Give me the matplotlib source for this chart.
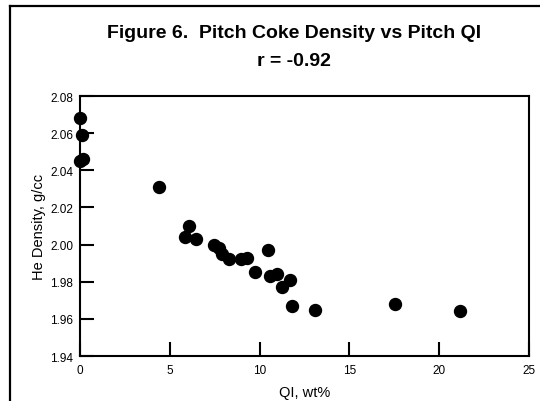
import matplotlib
matplotlib.use("Agg")
import matplotlib.pyplot as plt
from matplotlib.lines import Line2D

plt.rcParams['font.family'] = ['Liberation Sans', 'DejaVu Sans']

qi = [0.0, 0.1, 0.0, 0.15, 4.4, 6.07, 5.85, 6.46, 7.44, 7.72, 7.93, 8.3, 8.98, 9.3,
      9.74, 10.48, 10.6, 10.98, 11.7, 11.24, 11.82, 13.06, 17.56, 21.15]
density = [2.068, 2.059, 2.045, 2.046, 2.031, 2.010, 2.004, 2.003, 2.000, 1.998,
           1.995, 1.992, 1.992, 1.993, 1.985, 1.997, 1.983, 1.984, 1.981, 1.977,
           1.967, 1.965, 1.968, 1.964]

xticks = [0, 5, 10, 15, 20, 25]
yticks = [1.94, 1.96, 1.98, 2.00, 2.02, 2.04, 2.06, 2.08]

fig = plt.figure(figsize=(5.4, 4.02), dpi=100)
ax = fig.add_axes([80/540, 45/402, 449/540, 260/402])

ax.plot(qi, density, 'o', color='black', markersize=8.6, clip_on=False, zorder=5)

ax.set_xlim(0, 25)
ax.set_ylim(1.94, 2.08)
ax.set_xticks(xticks)
ax.set_xticklabels([str(t) for t in xticks])
ax.set_yticks(yticks)
ax.set_yticklabels([f"{t:.2f}" for t in yticks])
ax.tick_params(direction='in', length=10, width=1.5, labelsize=8.5, pad=6)
ax.tick_params(axis='y', pad=5)
for s in ax.spines.values():
    s.set_linewidth(1.5)

ax.set_xlabel('QI, wt%', fontsize=10.5, labelpad=6)
ax.set_ylabel('He Density, g/cc', fontsize=10.5, labelpad=3)

fig.text(294/540, 1 - 34/402, 'Figure 6.  Pitch Coke Density vs Pitch QI',
         ha='center', va='center', fontsize=14, fontweight='bold')
fig.text(294/540, 1 - 62/402, 'r = -0.92',
         ha='center', va='center', fontsize=14, fontweight='bold')

# outer frame (extends past right and bottom edges)
fig.add_artist(Line2D([10/540, 10/540], [0, 1 - 7/402], transform=fig.transFigure,
                      color='black', linewidth=1.6))
fig.add_artist(Line2D([10/540, 1.0], [1 - 7/402, 1 - 7/402], transform=fig.transFigure,
                      color='black', linewidth=1.6))

fig.savefig('out.png', dpi=100)
